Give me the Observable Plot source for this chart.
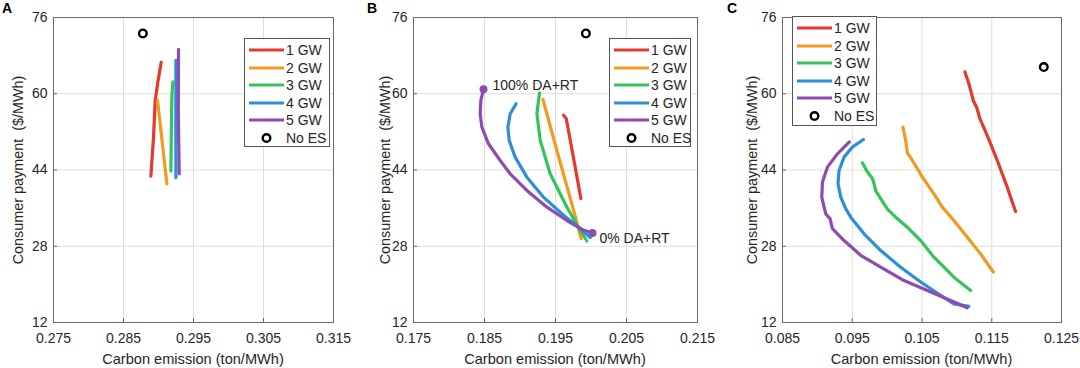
<!DOCTYPE html>
<html><head><meta charset="utf-8">
<script src="https://cdn.jsdelivr.net/npm/d3@7"></script>
<script src="https://cdn.jsdelivr.net/npm/@observablehq/plot@0.6"></script>
<style>
body{margin:0;background:#fff;font-family:"Liberation Sans",Arial,sans-serif;}
#root{position:relative;width:1080px;height:368px;overflow:hidden;background:#fff;}
.panel{position:absolute;top:0;}
.ylab{position:absolute;transform:translate(-50%,-50%) rotate(-90deg);white-space:pre;font-size:14.4px;color:#262626;}
.xlab{position:absolute;transform:translate(-50%,-50%);white-space:pre;font-size:14.6px;color:#262626;}
.tag{position:absolute;font-weight:bold;font-size:14px;color:#000;}
.legend{position:absolute;border:1px solid #555;background:#fff;box-sizing:border-box;}
.legend .row{position:absolute;left:0;height:18px;width:100%;}
.legend .row span{position:absolute;left:41px;top:0;font-size:14px;line-height:18px;color:#262626;white-space:nowrap;}
.legend svg{position:absolute;left:3px;top:0;}
</style>
</head><body><div id="root"></div>
<script>
// ---------- data ----------
const seriesNames = ["1 GW","2 GW","3 GW","4 GW","5 GW"];
const seriesColors = ["#e23a2e","#f29a1f","#36c35a","#2c8fdb","#8e4bb0"];
const noESLabel = "No ES";
const yTicks = [12,28,44,60,76];
const xTicksA = [0.275,0.285,0.295,0.305,0.315];
const xTicksB = [0.175,0.185,0.195,0.205,0.215];
const xTicksC = [0.085,0.095,0.105,0.115,0.125];
const yLabel = "Consumer payment  ($/MWh)";
const xLabel = "Carbon emission (ton/MWh)";
const panelTags = ["A","B","C"];
const endLabels = ["100% DA+RT","0% DA+RT"];

// Panel A
const a1 = [[0.28891,42.7],[0.28929,50.9],[0.28953,58.6],[0.28992,62.6],[0.29039,66.6]];
const a2 = [[0.28986,58.6],[0.29053,49.9],[0.29120,41.1]];
const a3 = [[0.29177,43.8],[0.29186,55.1],[0.29193,60.0],[0.29206,62.5]];
const a4 = [[0.29249,42.4],[0.29247,55.0],[0.29249,67.0]];
const a5 = [[0.29296,43.2],[0.29283,56.0],[0.29286,69.3]];
const aNoES = [[0.28777,72.65]];

// Panel B
const b1 = [[0.19613,55.5],[0.19651,54.8],[0.19755,46.4],[0.19858,38.0]];
const b2 = [[0.19323,58.8],[0.19455,51.6],[0.19596,44.0],[0.19735,36.6],[0.19862,29.6]];
const b3 = [[0.19275,60.2],[0.19238,55.8],[0.19285,50.2],[0.19425,43.2],[0.19661,36.2],[0.19848,31.3],[0.19942,29.1]];
const b4 = [[0.18946,57.9],[0.18862,55.8],[0.18829,53.0],[0.18848,50.2],[0.18932,46.7],[0.19097,42.5],[0.19331,38.3],[0.19613,34.5],[0.19848,31.7],[0.19989,29.8]];
const b5 = [[0.18486,60.95],[0.18449,58.6],[0.18439,55.8],[0.18463,53.0],[0.18556,49.5],[0.18721,46.0],[0.18862,43.2],[0.19097,39.7],[0.19379,36.2],[0.19661,33.4],[0.19894,31.4],[0.20021,30.8]];
const bNoES = [[0.19928,72.65]];

// Panel C
const c1 = [[0.11115,64.6],[0.11172,62.1],[0.11235,58.6],[0.11282,57.2],[0.11330,54.8],[0.11436,51.2],[0.11579,46.0],[0.11722,40.4],[0.11841,35.3]];
const c2 = [[0.10227,53.0],[0.10266,50.2],[0.10290,47.6],[0.10362,46.0],[0.10433,44.3],[0.10505,42.5],[0.10671,39.0],[0.10791,36.2],[0.10957,33.4],[0.11149,29.9],[0.11340,26.4],[0.11522,22.6]];
const c3 = [[0.09646,45.5],[0.09717,43.6],[0.09789,42.2],[0.09812,41.1],[0.09836,39.7],[0.09908,38.0],[0.10004,35.8],[0.10123,34.1],[0.10290,32.0],[0.10481,29.2],[0.10671,25.7],[0.10957,21.5],[0.11197,18.7]];
const c4 = [[0.09660,50.4],[0.09502,48.8],[0.09382,46.7],[0.09311,43.9],[0.09296,41.1],[0.09335,38.3],[0.09406,35.9],[0.09478,34.1],[0.09669,30.6],[0.09908,27.1],[0.10194,23.6],[0.10481,20.5],[0.10767,17.7],[0.10957,15.9],[0.11172,15.4]];
const c5 = [[0.09459,49.9],[0.09288,47.4],[0.09144,44.6],[0.09073,41.5],[0.09063,38.3],[0.09120,34.8],[0.09182,33.8],[0.09216,31.7],[0.09382,29.2],[0.09621,26.1],[0.09908,23.6],[0.10242,20.8],[0.10576,18.7],[0.10910,16.6],[0.11149,15.1]];
const cNoES = [[0.12246,65.6]];

// ---------- drawing ----------
const root = document.getElementById("root");
const fmt = d3.format(".3f");

function makePanel(cfg){
  const rows = [];
  cfg.series.forEach((pts,i)=>pts.forEach(([x,y])=>rows.push({s:seriesNames[i],x,y})));
  const marks = [
    Plot.gridX(cfg.xTicks,{stroke:"#dedede",strokeOpacity:1}),
    Plot.gridY(yTicks,{stroke:"#dedede",strokeOpacity:1}),
    Plot.line(rows,{x:"x",y:"y",z:"s",stroke:"s",strokeWidth:3.2,curve:"linear"}),
    Plot.dot(cfg.noES,{x:d=>d[0],y:d=>d[1],r:3.8,stroke:"#000",strokeWidth:2.4,fill:"none"}),
    Plot.frame({stroke:"#6a6a6a"}),
    Plot.axisX(cfg.xTicks,{tickSize:-4,tickPadding:15,tickFormat:fmt,label:null,stroke:"#6a6a6a",fill:"#262626"}),
    Plot.axisY(yTicks,{tickSize:-4,tickPadding:10,label:null,stroke:"#6a6a6a",fill:"#262626"})
  ];
  if (cfg.ends){
    const p = cfg.series[4];
    const ends = [p[0], p[p.length-1]];
    marks.push(Plot.dot(ends,{x:d=>d[0],y:d=>d[1],r:4,fill:seriesColors[4]}));
    marks.push(Plot.text([ends[0]],{x:d=>d[0],y:d=>d[1],text:()=>endLabels[0],dx:9,dy:-4,textAnchor:"start",fill:"#262626",fontSize:14}));
    marks.push(Plot.text([ends[1]],{x:d=>d[0],y:d=>d[1],text:()=>endLabels[1],dx:7,dy:6,textAnchor:"start",fill:"#262626",fontSize:14}));
  }
  const svg = Plot.plot({
    width:360, height:368,
    marginLeft:cfg.ml, marginRight:cfg.mr, marginTop:17, marginBottom:46,
    x:{domain:[cfg.xTicks[0],cfg.xTicks[cfg.xTicks.length-1]]},
    y:{domain:[12,76]},
    color:{domain:seriesNames,range:seriesColors},
    style:{fontFamily:"Liberation Sans, Arial, sans-serif",fontSize:"14px",color:"#262626",background:"transparent",overflow:"visible"},
    marks
  });
  const wrap = document.createElement("div");
  wrap.className = "panel";
  wrap.style.left = cfg.left + "px";
  wrap.appendChild(svg);
  root.appendChild(wrap);

  const tag = document.createElement("div");
  tag.className = "tag"; tag.textContent = cfg.tag;
  tag.style.left = (cfg.left + cfg.tagX) + "px"; tag.style.top = "0px";
  root.appendChild(tag);

  const yl = document.createElement("div");
  yl.className = "ylab"; yl.textContent = yLabel;
  yl.style.left = (cfg.left + cfg.ylx) + "px"; yl.style.top = "170px";
  root.appendChild(yl);

  const xl = document.createElement("div");
  xl.className = "xlab"; xl.textContent = xLabel;
  xl.style.left = (cfg.left + cfg.ml + (360 - cfg.ml - cfg.mr)/2) + "px"; xl.style.top = "359px";
  root.appendChild(xl);

  const lg = document.createElement("div");
  lg.className = "legend";
  Object.assign(lg.style,{left:cfg.lg[0]+"px",top:cfg.lg[1]+"px",width:cfg.lg[2]+"px",height:cfg.lg[3]+"px"});
  const labels = [...seriesNames, noESLabel];
  labels.forEach((name,i)=>{
    const row = document.createElement("div");
    row.className = "row";
    row.style.top = (2 + i*17.6) + "px";
    const sw = i < 5
      ? `<svg width="37" height="18"><line x1="1" x2="36" y1="9" y2="9" stroke="${seriesColors[i]}" stroke-width="3.2"/></svg>`
      : `<svg width="37" height="18"><circle cx="18.5" cy="9" r="3.8" fill="none" stroke="#000" stroke-width="2.4"/></svg>`;
    row.innerHTML = sw + `<span>${name}</span>`;
    lg.appendChild(row);
  });
  root.appendChild(lg);
}

makePanel({left:0, ml:53, mr:27, xTicks:xTicksA, series:[a1,a2,a3,a4,a5], noES:aNoES, tag:panelTags[0], tagX:2, ylx:18, lg:[244,38,86,109]});
makePanel({left:360, ml:53, mr:23, xTicks:xTicksB, series:[b1,b2,b3,b4,b5], noES:bNoES, tag:panelTags[1], tagX:7, ylx:25, lg:[609,38,82,109], ends:true});
makePanel({left:720, ml:62, mr:19, xTicks:xTicksC, series:[c1,c2,c3,c4,c5], noES:cNoES, tag:panelTags[2], tagX:7, ylx:32, lg:[792,16,85,110]});
</script>
</body></html>
